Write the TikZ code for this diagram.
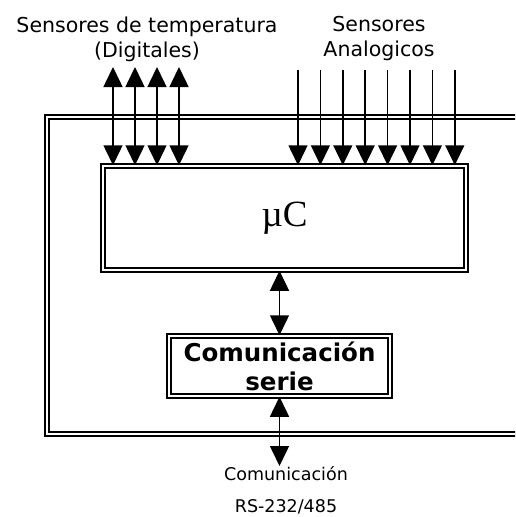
\documentclass[tikz,border=0pt]{standalone}
\usepackage{fontspec}
\setmainfont{DejaVu Sans}
\newfontfamily\ucfont{Liberation Serif}
\usetikzlibrary{arrows.meta,positioning,calc}

\begin{document}
\begin{tikzpicture}[x=1pt,y=-1pt,>={Triangle[width=19pt,length=20pt]},
  dbl/.style={draw,double,double distance=2.5pt,line width=1.5pt},
  lbl/.style={align=center,inner sep=0pt,font=\fontsize{20.5}{25}\selectfont},
  con/.style={line width=1.5pt}]
\useasboundingbox (0,0) rectangle (515,517);
% frame of the whole system, open to the right
\begin{scope}
\clip (0,0) rectangle (515,517);
\draw[dbl] (540,117) -- (47,117) -- (47,434) -- (540,434);
\end{scope}
\node[dbl,minimum width=363pt,minimum height=104pt] (uc) at (284.5,218) {\ucfont\fontsize{37}{40}\selectfont µC};
\node[dbl,minimum width=221pt,minimum height=60pt,align=center,inner sep=0pt,
  font=\bfseries\fontsize{24.5}{29}\selectfont] (com) at (279.5,366) {Comunicación\\serie};
\node[lbl] (tdig) at (147,39) {Sensores de temperatura\\(Digitales)};
\node[lbl] (tana) at (379,39) {Sensores\\Analogicos};
\node[align=center,inner sep=0pt,anchor=north,font=\fontsize{17.5}{32}\selectfont]
  (rs) at (286,466) {Comunicación\\RS-232/485};
% digital sensors, both ways
\foreach \i in {0,...,3}{
  \coordinate (d\i) at (113+22*\i,67);
  \draw[con,<->] (d\i) -- (d\i |- uc.north);
}
% analog sensors, into the uC
\foreach \i in {0,...,7}{
  \coordinate (a\i) at (298+22.4*\i,70);
  \draw[con,->] (a\i) -- (a\i |- uc.north);
}
\draw[con,<->] (com.north |- uc.south) -- (com.north);
\draw[con,<->] (com.south) -- (com.south |- rs.north);
\end{tikzpicture}
\end{document}
